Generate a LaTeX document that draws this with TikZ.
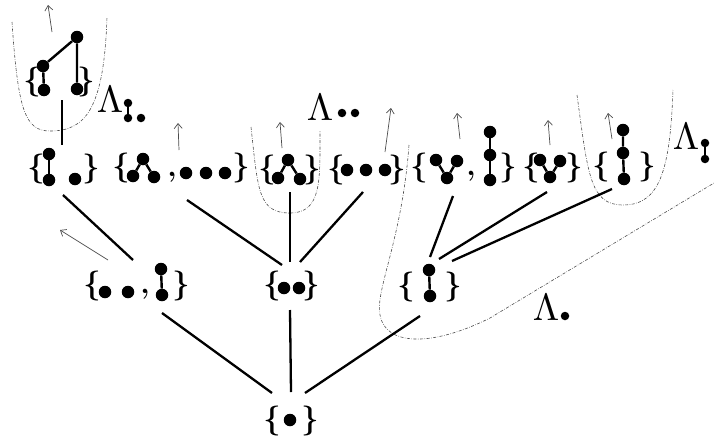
\documentclass[tikz,border=0pt]{standalone}
\usetikzlibrary{arrows.meta}
\tikzset{
  vtx/.style={circle, fill=black, inner sep=0pt, minimum size=12.5pt},
  sv/.style={circle, fill=black, inner sep=0pt, minimum size=8.5pt},
  brc/.style={inner sep=0pt, font=\fontsize{30}{30}\selectfont\bfseries},
  cma/.style={inner sep=0pt, anchor=base, font=\fontsize{30}{30}\selectfont\bfseries},
  gedge/.style={line width=2.4pt},
  conn/.style={line width=2.3pt},
  hint/.style={line width=0.7pt, draw=black!70, -{Straight Barb[length=5pt,width=8pt]}},
  region/.style={line width=0.6pt, draw=black!70, dash pattern=on 3pt off 1.5pt on 0.6pt off 1.5pt},
  lam/.style={inner sep=0pt},
}
\begin{document}
\begin{tikzpicture}[x=1pt,y=-1pt]
\useasboundingbox (0,0) rectangle (714,439);

% ---------- regions (dash-dotted) ----------
\draw[region] (12,22) .. controls (18,110) and (25,131) .. (50,131) .. controls (85,131) and (104,110) .. (107,17);
\draw[region] (251,127) .. controls (258,190) and (258,213) .. (290,213) .. controls (322,213) and (320,180) .. (320,130);
\draw[region] (577,95) .. controls (588,175) and (590,205) .. (623,205) .. controls (660,205) and (670,170) .. (673,90);
\draw[region] (409,145) .. controls (402,240) and (375,290) .. (380,315) .. controls (385,345) and (430,348) .. (490,318) -- (714,183);

% ---------- labels ----------
\node[lam] (lamA) at (110,100) {\scalebox{3.8}{$\Lambda$}};
\node[sv] (lamAa) at (128,103) {};
\node[sv] (lamAb) at (128,118) {};
\node[sv] (lamAc) at (141,118) {};
\draw[line width=1.8pt] (lamAa) -- (lamAb);

\node[lam] (lamB) at (320,108) {\scalebox{3.8}{$\Lambda$}};
\node[sv] (lamBa) at (342,113) {};
\node[sv] (lamBb) at (355,113) {};

\node[lam] (lamC) at (686,137) {\scalebox{3.8}{$\Lambda$}};
\node[sv] (lamCa) at (705,143) {};
\node[sv] (lamCb) at (705,159) {};
\draw[line width=1.8pt] (lamCa) -- (lamCb);

\node[lam] (lamD) at (546,308) {\scalebox{3.8}{$\Lambda$}};
\node[sv] (lamDa) at (565,316) {};

% ---------- bottom {•} ----------
\node[brc] (B0l) at (272,421) {\{};
\node[brc] (B0r) at (310,421) {\}};
\node[vtx] (b0a) at (290,420) {};

% ---------- row 2 ----------
% {• •, vertical pair}
\node[brc] (N1l) at (92,286) {\{};
\node[brc] (N1r) at (181,286) {\}};
\node[vtx] (n1a) at (105,292) {};
\node[vtx] (n1b) at (128,292) {};
\node[cma] (N1c) at (145,293) {,};
\node[vtx] (n1c) at (161,269) {};
\node[vtx] (n1d) at (162,295) {};
\draw[gedge] (n1c) -- (n1d);
% {• •}
\node[brc] (N2l) at (272,286) {\{};
\node[brc] (N2r) at (311,286) {\}};
\node[vtx] (n2a) at (284,288) {};
\node[vtx] (n2b) at (299,288) {};
% {vertical pair}
\node[brc] (N3l) at (406,287) {\{};
\node[brc] (N3r) at (453,287) {\}};
\node[vtx] (n3a) at (429,270) {};
\node[vtx] (n3b) at (430,296) {};
\draw[gedge] (n3a) -- (n3b);

% ---------- row 3 ----------
% T1 {pair •}
\node[brc] (T1l) at (36,169) {\{};
\node[brc] (T1r) at (91,169) {\}};
\node[vtx] (t1a) at (49,154) {};
\node[vtx] (t1b) at (49,180) {};
\node[vtx] (t1c) at (75,179) {};
\draw[gedge] (t1a) -- (t1b);
% T2 {cherry, • • •}
\node[brc] (T2l) at (121,168) {\{};
\node[brc] (T2r) at (241,168) {\}};
\node[vtx] (t2a) at (143,159) {};
\node[vtx] (t2b) at (133,176) {};
\node[vtx] (t2c) at (154,177) {};
\draw[gedge] (t2b) -- (t2a) -- (t2c);
\node[cma] (T2c) at (172,176) {,};
\node[vtx] (t2d) at (186,173) {};
\node[vtx] (t2e) at (206,173) {};
\node[vtx] (t2f) at (225,173) {};
% T3 {cherry}
\node[brc] (T3l) at (267,170) {\{};
\node[brc] (T3r) at (312,170) {\}};
\node[vtx] (t3a) at (288,160) {};
\node[vtx] (t3b) at (278,178) {};
\node[vtx] (t3c) at (300,179) {};
\draw[gedge] (t3b) -- (t3a) -- (t3c);
% T4 {• • •}
\node[brc] (T4l) at (336,170) {\{};
\node[brc] (T4r) at (397,170) {\}};
\node[vtx] (t4a) at (347,170) {};
\node[vtx] (t4b) at (366,170) {};
\node[vtx] (t4c) at (385,170) {};
% T5 {V, 3-path}
\node[brc] (T5l) at (419,168) {\{};
\node[brc] (T5r) at (508,168) {\}};
\node[vtx] (t5a) at (436,160) {};
\node[vtx] (t5b) at (457,161) {};
\node[vtx] (t5c) at (447,178) {};
\draw[gedge] (t5a) -- (t5c) -- (t5b);
\node[cma] (T5c) at (471,175) {,};
\node[vtx] (t5d) at (490,132) {};
\node[vtx] (t5e) at (490,155) {};
\node[vtx] (t5f) at (490,180) {};
\draw[gedge] (t5d) -- (t5e) -- (t5f);
% T6 {V}
\node[brc] (T6l) at (531,168) {\{};
\node[brc] (T6r) at (574,168) {\}};
\node[vtx] (t6a) at (540,160) {};
\node[vtx] (t6b) at (560,161) {};
\node[vtx] (t6c) at (550,177) {};
\draw[gedge] (t6a) -- (t6c) -- (t6b);
% T7 {3-path}
\node[brc] (T7l) at (601,167) {\{};
\node[brc] (T7r) at (647,167) {\}};
\node[vtx] (t7a) at (623,130) {};
\node[vtx] (t7b) at (623,153) {};
\node[vtx] (t7c) at (624,179) {};
\draw[gedge] (t7a) -- (t7b) -- (t7c);

% ---------- top tree ----------
\node[brc] (T0l) at (32,82) {\{};
\node[brc] (T0r) at (86,82) {\}};
\node[vtx] (t0a) at (77,37) {};
\node[vtx] (t0b) at (43,66) {};
\node[vtx] (t0c) at (44,90) {};
\node[vtx] (t0d) at (77,89) {};
\draw[gedge] (t0c) -- (t0b) -- (t0a) -- (t0d);

% ---------- connector end points ----------
\coordinate (T0s) at (62,100);  \coordinate (T1n) at (62,145);
\coordinate (T1s) at (63,195);  \coordinate (N1nw) at (133,260);
\coordinate (T2s) at (187,200); \coordinate (N2nw) at (282,265);
\coordinate (T3s) at (290,192); \coordinate (N2n) at (290,262);
\coordinate (T4s) at (363,192); \coordinate (N2ne) at (300,262);
\coordinate (T5s) at (453,196); \coordinate (N3n) at (430,257);
\coordinate (T6s) at (547,192); \coordinate (N3ne) at (439,259);
\coordinate (T7s) at (612,189); \coordinate (N3e) at (452,261);
\coordinate (N1s) at (162,313); \coordinate (B0nw) at (272,393);
\coordinate (N2s) at (290,310); \coordinate (B0n) at (291,392);
\coordinate (N3s) at (420,316); \coordinate (B0ne) at (305,393);

\draw[conn] (T0s) -- (T1n);
\draw[conn] (T1s) -- (N1nw);
\draw[conn] (T2s) -- (N2nw);
\draw[conn] (T3s) -- (N2n);
\draw[conn] (T4s) -- (N2ne);
\draw[conn] (T5s) -- (N3n);
\draw[conn] (T6s) -- (N3ne);
\draw[conn] (T7s) -- (N3e);
\draw[conn] (N1s) -- (B0nw);
\draw[conn] (N2s) -- (B0n);
\draw[conn] (N3s) -- (B0ne);

% ---------- thin arrows ----------
\coordinate (a0s) at (52,32);   \coordinate (a0e) at (48,5);
\coordinate (a1s) at (179,150); \coordinate (a1e) at (178,123);
\coordinate (a2s) at (282,148); \coordinate (a2e) at (280,122);
\coordinate (a3s) at (385,152); \coordinate (a3e) at (391,108);
\coordinate (a4s) at (460,139); \coordinate (a4e) at (457,113);
\coordinate (a5s) at (550,145); \coordinate (a5e) at (548,120);
\coordinate (a6s) at (612,139); \coordinate (a6e) at (608,113);
\coordinate (a7s) at (108,260); \coordinate (a7e) at (60,230);
\foreach \i in {0,...,7} { \draw[hint] (a\i s) -- (a\i e); }
\end{tikzpicture}
\end{document}
